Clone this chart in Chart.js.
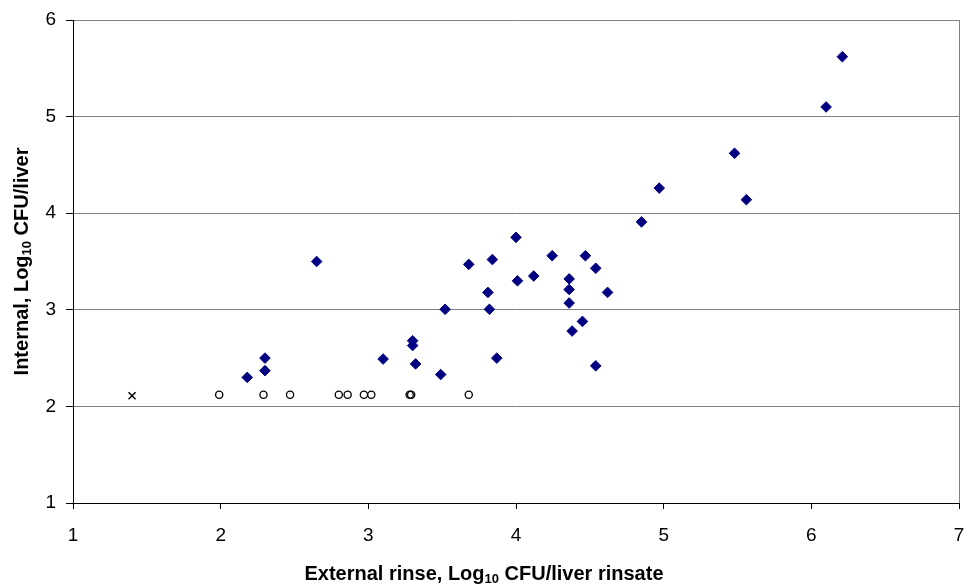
<!DOCTYPE html>
<html>
<head>
<meta charset="utf-8">
<script src="https://cdn.jsdelivr.net/npm/chart.js@4"></script>
<style>
  html, body { margin: 0; padding: 0; background: #fff; }
  #wrap { width: 968px; height: 585px; }
</style>
</head>
<body>
<div id="wrap"><canvas id="myChart" width="968" height="585"></canvas></div>
<script>
// diamonds - both internal and external counts
const posX = [2.65, 3.68, 3.84, 3.81, 3.52, 3.82, 2.30, 2.30, 2.18, 3.10, 3.30, 3.30, 3.32, 3.49, 3.87,
              4.85, 4.00, 4.245, 4.47, 4.54, 4.01, 4.12, 4.36, 4.36, 4.36, 4.62, 4.45, 4.38, 4.54,
              6.10, 5.48, 4.97, 5.56, 6.21];
const posY = [3.50, 3.47, 3.52, 3.18, 3.005, 3.005, 2.50, 2.37, 2.30, 2.49, 2.68, 2.63, 2.44, 2.33, 2.50,
              3.91, 3.75, 3.56, 3.56, 3.43, 3.30, 3.35, 3.32, 3.21, 3.07, 3.18, 2.88, 2.78, 2.42,
              5.10, 4.62, 4.26, 4.14, 5.62];

// open circles - internal below detection
const lowX = [1.99, 2.29, 2.47, 2.80, 2.86, 2.97, 3.02, 3.28, 3.29, 3.68];
const lowY = [2.12, 2.12, 2.12, 2.12, 2.12, 2.12, 2.12, 2.12, 2.12, 2.12];

// the single x mark
const crossX = [1.40];
const crossY = [2.11];

function toPoints(xs, ys) {
  let pts = [];
  for (let i = 0; i < xs.length; i++) {
    pts.push({ x: xs[i], y: ys[i] });
  }
  return pts;
}

const GRID_GREY = 'rgb(128, 128, 128)';
const FONT = '"Liberation Sans", Arial, sans-serif';

// axis titles have a subscript so they are drawn by hand
const axisTitles = {
  id: 'axisTitles',
  afterDraw(chart) {
    const ctx = chart.ctx;
    const area = chart.chartArea;
    ctx.save();
    ctx.fillStyle = '#000';
    ctx.textBaseline = 'alphabetic';

    function drawParts(parts, cx, cy) {
      let total = 0;
      parts.forEach(p => {
        ctx.font = p.font;
        total += ctx.measureText(p.text).width;
      });
      let x = cx - total / 2;
      parts.forEach(p => {
        ctx.font = p.font;
        ctx.fillText(p.text, x, cy + (p.dy || 0));
        x += ctx.measureText(p.text).width;
      });
    }

    const big = 'bold 20px ' + FONT;
    const small = 'bold 13px ' + FONT;

    drawParts([
      { text: 'External rinse, Log', font: big },
      { text: '10', font: small, dy: 3 },
      { text: ' CFU/liver rinsate', font: big }
    ], chart.width / 2, 580);

    ctx.translate(28, (area.top + area.bottom) / 2);
    ctx.rotate(-Math.PI / 2);
    drawParts([
      { text: 'Internal, Log', font: big },
      { text: '10', font: small, dy: 3 },
      { text: ' CFU/liver', font: big }
    ], 0, 0);
    ctx.restore();
  }
};

const data = {
  datasets: [
    {
      label: 'Detected',
      data: toPoints(posX, posY),
      pointStyle: 'rectRot',
      pointRadius: 5.3,
      pointBackgroundColor: 'rgb(0, 0, 128)',
      pointBorderColor: 'rgb(0, 0, 128)',
      pointBorderWidth: 1,
      showLine: false
    },
    {
      label: 'Below limit',
      data: toPoints(lowX, lowY),
      pointStyle: 'circle',
      pointRadius: 3.6,
      pointBackgroundColor: 'rgba(0,0,0,0)',
      pointBorderColor: '#000',
      pointBorderWidth: 1.3,
      showLine: false
    },
    {
      label: 'Other',
      data: toPoints(crossX, crossY),
      pointStyle: 'crossRot',
      pointRadius: 5,
      pointBorderColor: '#000',
      pointBorderWidth: 1.5,
      showLine: false
    }
  ]
};

const config = {
  type: 'scatter',
  data: data,
  options: {
    responsive: false,
    animation: false,
    layout: { padding: { left: 0, right: 9, top: 20, bottom: 0 } },
    plugins: {
      legend: { display: false },
      tooltip: { enabled: false }
    },
    scales: {
      x: {
        type: 'linear',
        min: 1,
        max: 7,
        ticks: { stepSize: 1, color: '#000', font: { family: FONT, size: 19 }, padding: 15, maxRotation: 0 },
        grid: {
          color: c => (c.tick && c.tick.value === 7) ? GRID_GREY : 'rgba(0,0,0,0)',
          tickColor: '#000',
          tickLength: 6,
          lineWidth: 1
        },
        border: { display: true, color: '#000', width: 1 },
        afterFit: s => { s.height = 82; s.paddingLeft = 0; s.paddingRight = 0; }
      },
      y: {
        type: 'linear',
        min: 1,
        max: 6,
        ticks: { stepSize: 1, color: '#000', font: { family: FONT, size: 19 }, padding: 10 },
        grid: {
          color: GRID_GREY,
          tickColor: '#000',
          tickLength: 7,
          lineWidth: 1
        },
        border: { display: true, color: '#000', width: 1 },
        afterFit: s => { s.width = 73; s.paddingTop = 0; s.paddingBottom = 0; }
      }
    }
  },
  plugins: [axisTitles]
};

const myChart = new Chart(document.getElementById('myChart'), config);
</script>
</body>
</html>
